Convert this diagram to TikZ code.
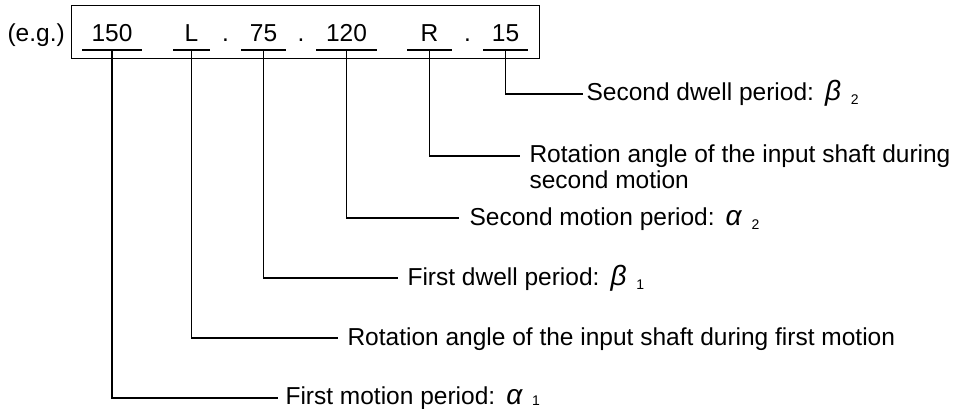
\documentclass[tikz,border=0pt]{standalone}
\usepackage{fontspec}
\setmainfont{Liberation Sans}
\newcommand\gk[1]{\hspace{0.45em}{\fontsize{28}{28}\selectfont\itshape #1}}
\newcommand\subs[2][-4pt]{\hspace{0.4em}\raisebox{#1}{\fontsize{14}{14}\selectfont #2}}
\begin{document}
\begin{tikzpicture}[x=1pt,y=-1pt,line width=1.1pt,
  lab/.style={anchor=base west,inner sep=0pt,font=\fontsize{24.5}{26}\selectfont,align=left},
  codetxt/.style={anchor=base,inner sep=0pt,font=\fontsize{24.5}{27}\selectfont},
  uline/.style={line width=1.3pt}]
\useasboundingbox (0,0) rectangle (955,409);
% box
\node[draw,line width=1pt,anchor=north west,minimum width=468pt,minimum height=53pt,inner sep=0pt] (box) at (71,5.5) {};
\node[codetxt,anchor=base west] (eg) at (7,42) {(e.g.)};
% code texts
\node[codetxt] (c1) at (112,42) {150};
\node[codetxt] (c2) at (191.5,42) {L};
\node[codetxt] (d1) at (225.5,42) {.};
\node[codetxt] (c3) at (263.5,42) {75};
\node[codetxt] (d2) at (301,42) {.};
\node[codetxt] (c4) at (346.5,42) {120};
\node[codetxt] (c5) at (429.5,42) {R};
\node[codetxt] (d3) at (467.5,42) {.};
\node[codetxt] (c6) at (505.5,42) {15};
% underlines
\draw[uline] (82,50) -- (142,50);
\draw[uline] (173,50) -- (210,50);
\draw[uline] (241,50) -- (286,50);
\draw[uline] (316,50) -- (377,50);
\draw[uline] (407,50) -- (452,50);
\draw[uline] (483,50) -- (528,50);
\coordinate (u1) at (112,50);
\coordinate (u2) at (191.5,50);
\coordinate (u3) at (263.5,50);
\coordinate (u4) at (346.5,50);
\coordinate (u5) at (429.5,50);
\coordinate (u6) at (505.5,50);
% line ends
\coordinate (e6) at (583,94);
\coordinate (e5) at (520,156);
\coordinate (e4) at (459,218);
\coordinate (e3) at (398,278);
\coordinate (e2) at (338,338);
\coordinate (e1) at (278,398);
% labels
\node[lab] (l6) at (586,101) {Second dwell period:\gk{β}\subs{2}};
\node[lab] (l5) at (529,188) {Rotation angle of the input shaft during\\second motion};
\node[lab] (l4) at (469,225) {Second motion period:\gk{α}\subs{2}};
\node[lab] (l3) at (407,285) {First dwell period:\gk{β}\subs{1}};
\node[lab] (l2) at (347,345) {Rotation angle of the input shaft during first motion};
\node[lab] (l1) at (285,404) {First motion period:\gk{α}\subs[-1.5pt]{1}};
% connectors
\draw (u6) |- (e6);
\draw (u5) |- (e5);
\draw (u4) |- (e4);
\draw (u3) |- (e3);
\draw (u2) |- (e2);
\draw (u1) |- (e1);
\end{tikzpicture}
\end{document}
